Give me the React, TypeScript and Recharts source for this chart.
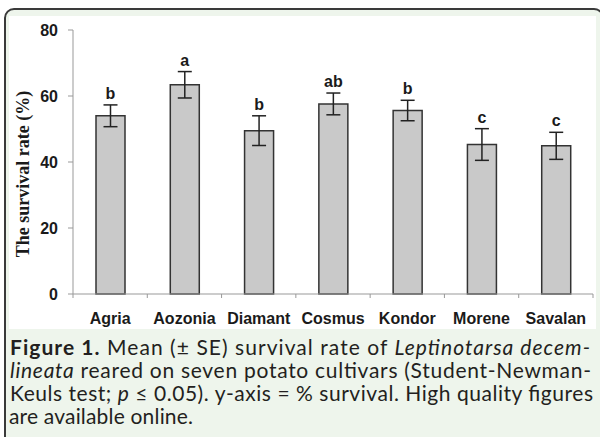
import { Bar, BarChart, ErrorBar, XAxis, YAxis } from "recharts";

const cultivars = ["Agria", "Aozonia", "Diamant", "Cosmus", "Kondor", "Morene", "Savalan"];
const survival = [54.0, 63.4, 49.5, 57.6, 55.6, 45.3, 44.9];
const se = [3.3, 4.0, 4.5, 3.3, 3.1, 4.8, 4.1];
const groups = ["b", "a", "b", "ab", "b", "c", "c"];
const yTicks = [0, 20, 40, 60, 80];

const data = cultivars.map((name, i) => ({ name, rate: survival[i], se: se[i] }));

const boldSans = "'Liberation Sans', Arial, sans-serif";

function GroupLabel(props: any) {
  const { x, y, width, height, value, index } = props;
  const perUnit = height / value;
  const top = y - se[index] * perUnit;
  return (
    <text x={x + width / 2} y={top - 6} textAnchor="middle" fontFamily={boldSans} fontWeight="bold" fontSize={16} fill="#1a1a1a">
      {groups[index]}
    </text>
  );
}

function CultivarTick(props: any) {
  const { x, y, payload, index } = props;
  const axisY = y - 16;
  const off = payload.offset || 0;
  return (
    <g>
      {index === 0 && <line x1={x - off} x2={x - off} y1={axisY} y2={axisY + 4} stroke="#999" />}
      <line x1={x + off} x2={x + off} y1={axisY} y2={axisY + 4} stroke="#999" />
      <text x={x} y={axisY + 30} textAnchor="middle" fontFamily={boldSans} fontWeight="bold" fontSize={16} fill="#1a1a1a">
        {payload.value}
      </text>
    </g>
  );
}

export default function App() {
  return (
    <div style={{ position: "absolute", left: 0, top: 0, width: 600, height: 437, overflow: "hidden", background: "#fff" }}>
      <div
        style={{
          position: "absolute",
          left: 4,
          top: 8,
          width: 600,
          height: 440,
          border: "2px solid #3a3a3a",
          borderRadius: 10,
          background: "#eef5ec",
          boxSizing: "border-box",
        }}
      />
      <div style={{ position: "absolute", left: 9, top: 16, width: 587, height: 313, background: "#fff" }}>
        <BarChart width={587} height={313} data={data} margin={{ top: 14, right: 3, left: 0, bottom: 0 }}>
          <XAxis
            dataKey="name"
            height={35}
            stroke="#999"
            tickLine={false}
            tickSize={0}
            tickMargin={16}
            interval={0}
            tick={<CultivarTick />}
          />
          <YAxis
            width={64}
            domain={[0, 80]}
            ticks={yTicks}
            stroke="#999"
            tickSize={5}
            tickMargin={10}
            tick={{ fontFamily: boldSans, fontWeight: "bold", fontSize: 16, fill: "#1a1a1a" }}
            label={{
              value: "The survival rate (%)",
              angle: -90,
              position: "insideLeft",
              dx: 9,
              dy: 12,
              style: { fontFamily: "'Liberation Serif', 'Times New Roman', serif", fontWeight: "bold", fontSize: 18, fill: "#1a1a1a", textAnchor: "middle" },
            }}
          />
          <Bar dataKey="rate" fill="#c9c9c9" stroke="#333" strokeWidth={1.5} barSize={29} isAnimationActive={false} label={<GroupLabel />}>
            <ErrorBar dataKey="se" width={7} stroke="#222" strokeWidth={1.5} />
          </Bar>
        </BarChart>
      </div>
      <svg width={600} height={437} style={{ position: "absolute", left: 0, top: 0 }}>
        <g fontFamily="Lato, 'Open Sans', sans-serif" fontSize={21} fill="#231f20">
          <text x={10} y={355} textLength={580} lengthAdjust="spacing">
            <tspan fontWeight="bold">Figure 1.</tspan> Mean (± SE) survival rate of <tspan fontStyle="italic">Leptinotarsa decem-</tspan>
          </text>
          <text x={10} y={378} textLength={581} lengthAdjust="spacing">
            <tspan fontStyle="italic">lineata</tspan> reared on seven potato cultivars (Student-Newman-
          </text>
          <text x={10} y={401} textLength={583} lengthAdjust="spacing">
            Keuls test; <tspan fontStyle="italic">p</tspan> ≤ 0.05). y-axis = % survival. High quality figures
          </text>
          <text x={9} y={424} textLength={184} lengthAdjust="spacing">
            are available online.
          </text>
        </g>
      </svg>
    </div>
  );
}
